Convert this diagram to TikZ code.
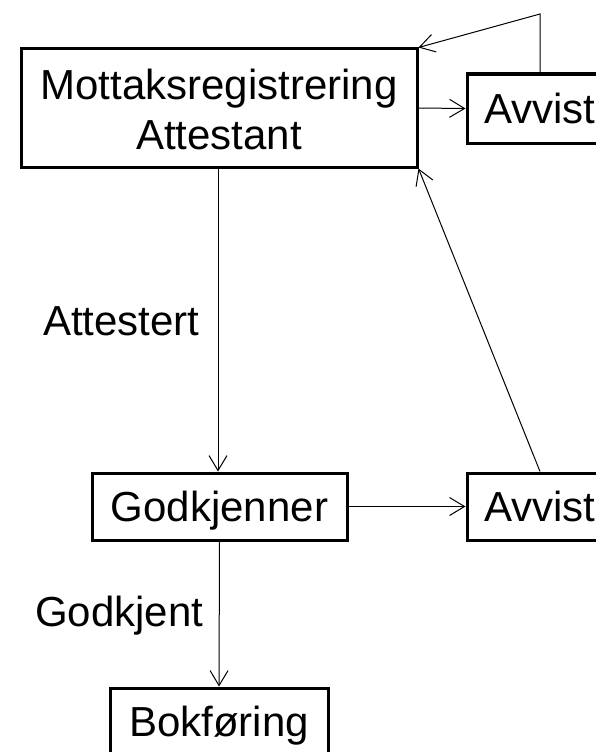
\documentclass[tikz,border=0pt]{standalone}
\usepackage{fontspec}
\setmainfont{Liberation Sans}
\usetikzlibrary{arrows.meta,calc}
\tikzset{
  box/.style={draw=black, line width=3pt, rectangle, inner sep=0pt, font=\fontsize{42}{50}\selectfont, text height=30pt, text depth=0pt},
  conn/.style={draw=black, line width=1pt, -{Straight Barb[length=15pt,width=18pt]}},
  lbl/.style={font=\fontsize{42}{50}\selectfont, inner sep=0pt, anchor=base west}
}
\begin{document}
\begin{tikzpicture}[x=1pt,y=-1pt]
\clip (0,0) rectangle (596,752);
\fill[white] (0,0) rectangle (596,752);
\node[box, minimum width=396pt, minimum height=118pt, align=center, text height=82pt] (main) at (219,108) {Mottaksregistrering\\Attestant};
\node[box, minimum width=146pt, minimum height=69pt] (avv1) at (540,108.5) {Avvist};
\node[box, minimum width=255pt, minimum height=67pt] (godk) at (219.5,506.5) {Godkjenner};
\node[box, minimum width=146pt, minimum height=67pt] (avv2) at (540,506.5) {Avvist};
\node[box, minimum width=218pt, minimum height=67pt] (bok) at (219,721.5) {Bokføring};
\coordinate (bend) at (540,14);
\node[lbl] (att) at (43,335) {Attestert};
\node[lbl] (gkj) at (35,626) {Godkjent};
\draw[conn] (main.south -| 218,0) -- (godk.north -| 218,0);
\draw[conn] (godk.south) -- (bok.north);
\draw[conn] (main.east) -- (avv1.west);
\draw[conn] (godk.east) -- (avv2.west);
\draw[conn] (avv2.north) -- (main.south east);
\draw[conn] (avv1.north) -- (bend) -- (main.north east);
\end{tikzpicture}
\end{document}
